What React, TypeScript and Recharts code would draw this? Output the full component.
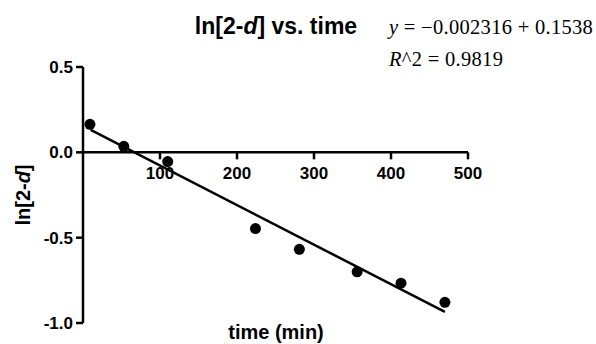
import React from 'react';
import { ComposedChart, Scatter, Line, XAxis, YAxis, ReferenceLine, ReferenceDot } from 'recharts';

// measured points: time (min) vs ln[2-d]
const times = [9, 53, 110, 224, 281, 356, 413, 470];
const lnValues = [0.164, 0.035, -0.054, -0.447, -0.568, -0.70, -0.767, -0.879];
// fitted line end points
const fitTimes = [10, 470];
const fitValues = [0.131, -0.935];

const xTicks = [100, 200, 300, 400, 500];
const yTicks = [-1, -0.5, 0, 0.5];

const points = times.map((t, i) => ({ x: t, y: lnValues[i] }));
const fitLine = fitTimes.map((t, i) => ({ x: t, y: fitValues[i] }));

const SANS = '"Liberation Sans", Arial, sans-serif';
const SERIF = '"Liberation Serif", "Times New Roman", serif';

const XTick = (props: any) => {
  const { cx, cy, label } = props;
  return (
    <g>
      <line x1={cx} y1={cy} x2={cx} y2={cy + 7} stroke="#000" strokeWidth={2.5} />
      <text x={cx} y={cy + 27} textAnchor="middle" fontFamily={SANS} fontWeight="bold" fontSize={17} fill="#000">
        {label}
      </text>
    </g>
  );
};

const YLabel = () => (
  <text
    x={23}
    y={195}
    transform="rotate(-90, 23, 195)"
    textAnchor="middle"
    dominantBaseline="central"
    fontFamily={SANS}
    fontWeight="bold"
    fontSize={20}
    fill="#000"
  >
    ln[2-<tspan fontStyle="italic">d</tspan>]
  </text>
);

export default function App() {
  return (
    <div style={{ position: 'absolute', left: 0, top: 0, width: 596, height: 344, background: '#fff' }}>
      <ComposedChart width={596} height={344} margin={{ top: 67, right: 128, bottom: 21, left: 23 }}>
        <XAxis type="number" dataKey="x" domain={[0, 500]} hide />
        <YAxis
          type="number"
          dataKey="y"
          domain={[-1, 0.5]}
          ticks={yTicks}
          width={60}
          tickFormatter={(v: number) => v.toFixed(1)}
          axisLine={{ stroke: '#000', strokeWidth: 2.5 }}
          tickLine={{ stroke: '#000', strokeWidth: 2.5 }}
          tickSize={7}
          tickMargin={3}
          tick={{ fill: '#000', fontFamily: SANS, fontWeight: 'bold', fontSize: 17 }}
          label={<YLabel />}
        />
        <ReferenceLine y={0} stroke="#000" strokeWidth={2.5} />
        {xTicks.map((t) => (
          <ReferenceDot key={t} x={t} y={0} r={0} shape={(p: any) => <XTick {...p} label={t} />} />
        ))}
        <Line data={fitLine} dataKey="y" type="linear" dot={false} stroke="#000" strokeWidth={2.5} isAnimationActive={false} />
        <Scatter
          data={points}
          fill="#000"
          isAnimationActive={false}
          shape={(p: any) => <circle cx={p.cx} cy={p.cy} r={5.5} fill="#000" />}
        />
      </ComposedChart>
      <svg width={596} height={344} style={{ position: 'absolute', left: 0, top: 0, pointerEvents: 'none' }}>
        <text x={276} y={34} textAnchor="middle" fontFamily={SANS} fontWeight="bold" fontSize={23} fill="#000">
          ln[2-<tspan fontStyle="italic">d</tspan>] vs. time
        </text>
        <text x={389} y={34} fontFamily={SERIF} fontSize={20.5} letterSpacing={0.3} fill="#000">
          <tspan fontStyle="italic">y</tspan> = −0.002316 + 0.1538
        </text>
        <text x={389} y={66} fontFamily={SERIF} fontSize={20.5} letterSpacing={0.3} fill="#000">
          <tspan fontStyle="italic">R</tspan>^2 = 0.9819
        </text>
        <text x={276} y={339} textAnchor="middle" fontFamily={SANS} fontWeight="bold" fontSize={20} fill="#000">
          time (min)
        </text>
      </svg>
    </div>
  );
}
